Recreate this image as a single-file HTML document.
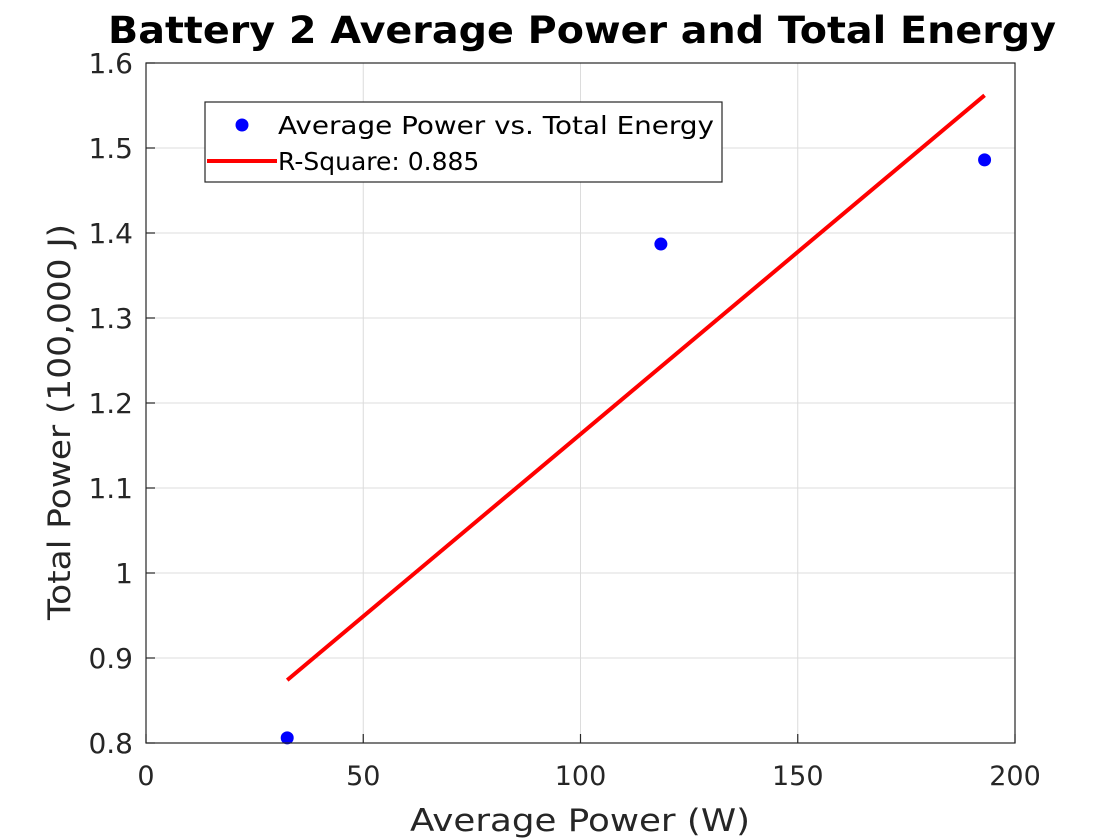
<!DOCTYPE html>
<html><head><meta charset="utf-8"><style>
html,body{margin:0;padding:0;background:#fff;}
svg{display:block;font-family:"DejaVu Sans","Liberation Sans",sans-serif;}
</style></head><body>
<svg id="chart" width="1120" height="840" viewBox="0 0 1120 840">
<rect x="0" y="0" width="1120" height="840" fill="#fff"/>
<text x="582" y="43" text-anchor="middle" font-size="37" font-weight="bold" fill="#000" textLength="948" lengthAdjust="spacingAndGlyphs">Battery 2 Average Power and Total Energy</text>
<g id="grid"></g>
<g id="marks"></g>
<rect x="146" y="63" width="869" height="680" fill="none" stroke="#262626" stroke-width="1.2"/>
<g id="ticks"></g>
<text x="580" y="831" text-anchor="middle" font-size="31" fill="#262626" textLength="340" lengthAdjust="spacingAndGlyphs">Average Power (W)</text>
<text transform="translate(70,422) rotate(-90)" text-anchor="middle" font-size="31" fill="#262626" textLength="396" lengthAdjust="spacingAndGlyphs">Total Power (100,000 J)</text>
<g>
<rect x="205" y="102" width="517" height="80" fill="#fff" stroke="#262626" stroke-width="1.2"/>
<circle cx="242" cy="125" r="6.5" fill="#0000ff"/>
<text x="278" y="134" font-size="25" fill="#000" textLength="436" lengthAdjust="spacingAndGlyphs">Average Power vs. Total Energy</text>
<line x1="207" y1="161" x2="277" y2="161" stroke="#ff0000" stroke-width="4"/>
<text x="278" y="170" font-size="25" fill="#000">R-Square: 0.885</text>
</g>
</svg>
<script>
const xTicks=[0,50,100,150,200];
const yTicks=[0.8,0.9,1,1.1,1.2,1.3,1.4,1.5,1.6];
const yTickLabels=["0.8","0.9","1","1.1","1.2","1.3","1.4","1.5","1.6"];
const pointX=[32.5,118.5,193];
const pointY=[0.806,1.387,1.486];
const fitX=[32.5,193];
const fitY=[0.874,1.562];
const NS="http://www.w3.org/2000/svg";
const X0=146,X1=1015,Y0=743,Y1=63;
function sx(v){return X0+(v-0)/(200-0)*(X1-X0);}
function sy(v){return Y0-(v-0.8)/(1.6-0.8)*(Y0-Y1);}
function mk(t,a,p){const e=document.createElementNS(NS,t);for(const k in a)e.setAttribute(k,a[k]);p.appendChild(e);return e;}
const grid=document.getElementById('grid'),ticks=document.getElementById('ticks'),marks=document.getElementById('marks');
xTicks.forEach(v=>{
 const g=mk('line',{x1:sx(v),x2:sx(v),y1:Y1,y2:Y0,stroke:'#dcdcdc','stroke-width':1},grid);
 
 
 const tk=mk('line',{x1:sx(v),x2:sx(v),y1:Y0,y2:Y0-9,stroke:'#262626','stroke-width':1.2},ticks);
 
 
 const t=mk('text',{x:sx(v),y:785,'text-anchor':'middle','font-size':27,fill:'#262626'},ticks);
 t.textContent=String(v);
 
 
});
yTicks.forEach((v,i)=>{
 const g=mk('line',{x1:X0,x2:X1,y1:sy(v),y2:sy(v),stroke:'#dcdcdc','stroke-width':1},grid);
 
 
 const tk=mk('line',{x1:X0,x2:X0+9,y1:sy(v),y2:sy(v),stroke:'#262626','stroke-width':1.2},ticks);
 
 
 const t=mk('text',{x:133,y:sy(v)+10,'text-anchor':'end','font-size':28,fill:'#262626'},ticks);
 t.textContent=yTickLabels[i];
 
 
});
const ln=mk('line',{x1:sx(fitX[0]),y1:sy(fitY[0]),x2:sx(fitX[1]),y2:sy(fitY[1]),stroke:'#ff0000','stroke-width':4},marks);


pointX.forEach((v,i)=>{
 const c=mk('circle',{cx:sx(v),cy:sy(pointY[i]),r:6.5,fill:'#0000ff'},marks);
 
 
});
</script>
</body></html>
